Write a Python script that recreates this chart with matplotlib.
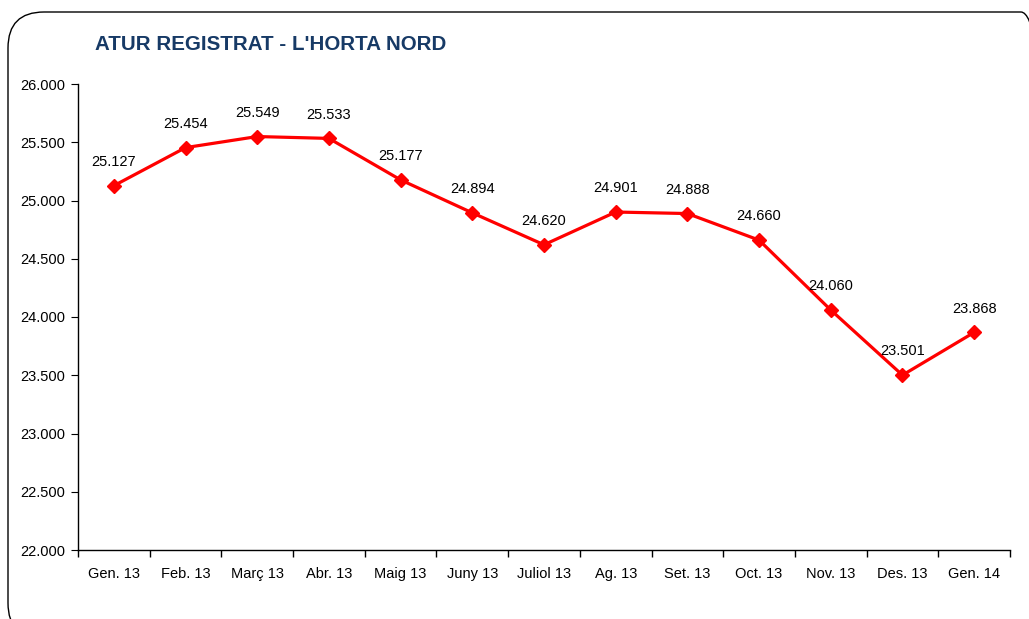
import matplotlib
matplotlib.use("Agg")
import matplotlib.pyplot as plt
from matplotlib.patches import FancyBboxPatch
from matplotlib.ticker import FuncFormatter, FixedLocator

plt.rcParams['font.family'] = ['Liberation Sans', 'DejaVu Sans']

categories = ["Gen. 13", "Feb. 13", "Març 13", "Abr. 13", "Maig 13", "Juny 13", "Juliol 13",
              "Ag. 13", "Set. 13", "Oct. 13", "Nov. 13", "Des. 13", "Gen. 14"]
values = [25127, 25454, 25549, 25533, 25177, 24894, 24620, 24901, 24888, 24660, 24060, 23501, 23868]
title = "ATUR REGISTRAT - L'HORTA NORD"

W, H = 1029, 619
fig = plt.figure(figsize=(W / 100, H / 100), dpi=100)

frame = FancyBboxPatch((8 / W, -20 / H), (W + 20) / W, (H - 12 + 20) / H,
                       boxstyle="round,pad=0,rounding_size=0.035",
                       transform=fig.transFigure, fill=False, edgecolor='black',
                       linewidth=1.0, mutation_aspect=W / H)
fig.patches.append(frame)

ax = fig.add_axes([78 / W, 1 - 550 / H, (1010 - 78) / W, (550 - 84) / H])

x = list(range(len(categories)))
ax.plot(x, values, color='#FF0000', linewidth=2.3, marker='D', markersize=7,
        markerfacecolor='#FF0000', markeredgecolor='#FF0000', zorder=3)

for xi, v in zip(x, values):
    ax.annotate(f"{v:,}".replace(",", "."), (xi, v), xytext=(0, 12),
                textcoords='offset points', ha='center', va='bottom', fontsize=10.5)

ax.set_xlim(-0.5, len(categories) - 0.5)
ax.set_ylim(22000, 26000)
ax.set_yticks(range(22000, 26001, 500))
ax.yaxis.set_major_formatter(FuncFormatter(lambda v, p: f"{int(v):,}".replace(",", ".")))
ax.set_xticks(x)
ax.set_xticklabels(categories)
ax.xaxis.set_minor_locator(FixedLocator([i - 0.5 for i in range(len(categories) + 1)]))
ax.tick_params(axis='x', which='major', length=0, pad=12, labelsize=10.5)
ax.tick_params(axis='x', which='minor', length=5, direction='out', width=1)
ax.tick_params(axis='y', length=5, direction='out', labelsize=10.5, pad=4)

for s in ['top', 'right']:
    ax.spines[s].set_visible(False)
for s in ['left', 'bottom']:
    ax.spines[s].set_linewidth(1.0)

fig.text(95 / W, 1 - 44 / H, title, fontsize=14.8, fontweight='bold', color='#173A66',
         ha='left', va='center')

fig.savefig("out.png", dpi=100)
